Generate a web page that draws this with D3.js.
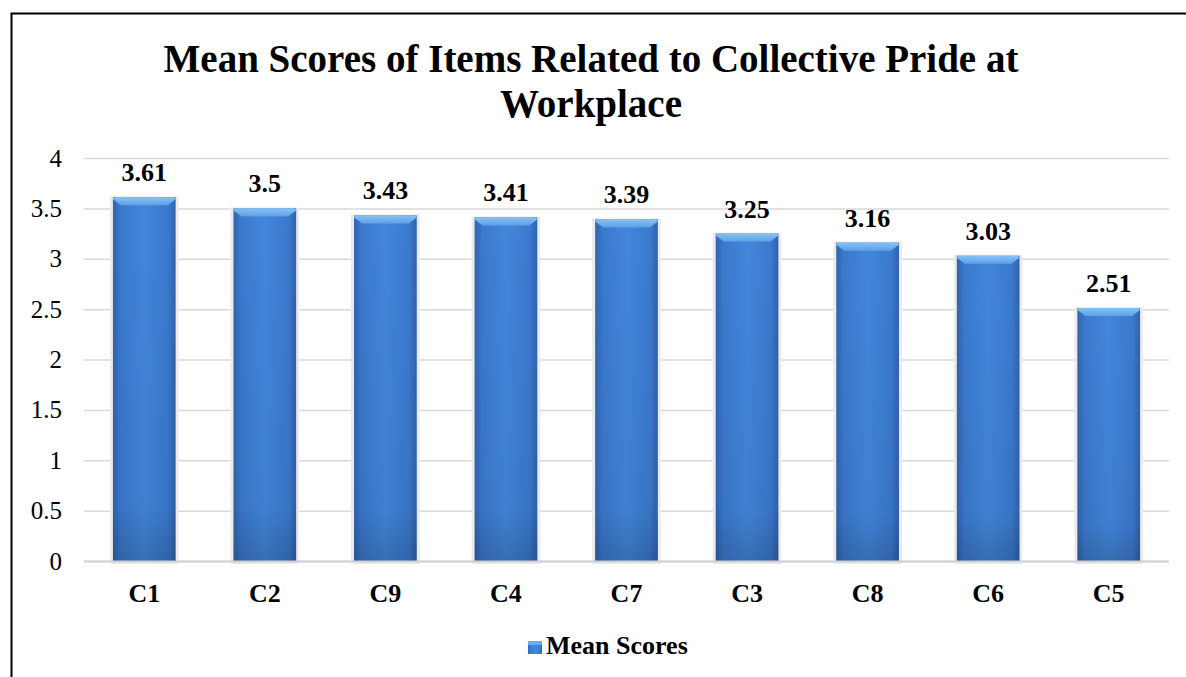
<!DOCTYPE html>
<html>
<head>
<meta charset="utf-8">
<script src="https://cdn.jsdelivr.net/npm/d3@7"></script>
<style>
  body { margin: 0; background: #fff; }
  svg { display: block; }
</style>
</head>
<body>
<svg id="chart" width="1186" height="677"></svg>
<script>
const categories = ["C1", "C2", "C9", "C4", "C7", "C3", "C8", "C6", "C5"];
const meanScores = [3.61, 3.5, 3.43, 3.41, 3.39, 3.25, 3.16, 3.03, 2.51];
const yTicks = [0, 0.5, 1, 1.5, 2, 2.5, 3, 3.5, 4];
const titleLines = ["Mean Scores of Items Related to Collective Pride at", "Workplace"];
const seriesName = "Mean Scores";

const settings = {
  width: 1186,
  height: 677,
  plot: { left: 84, right: 1169, top: 158, bottom: 561 },
  font: "'Liberation Serif', 'Times New Roman', serif",
};

const svg = d3.select("#chart");

// gradients for the beveled bar look
const defs = svg.append("defs");
const grad = defs.append("linearGradient").attr("id", "barFill").attr("x1", 0).attr("x2", 1).attr("y1", 0).attr("y2", 0);
grad.append("stop").attr("offset", "0%").attr("stop-color", "#2f64b0");
grad.append("stop").attr("offset", "12%").attr("stop-color", "#3b79cd");
grad.append("stop").attr("offset", "50%").attr("stop-color", "#4287dc");
grad.append("stop").attr("offset", "88%").attr("stop-color", "#3b79cd");
grad.append("stop").attr("offset", "100%").attr("stop-color", "#2f62ad");

const vgrad = defs.append("linearGradient").attr("id", "barShade").attr("x1", 0).attr("x2", 0).attr("y1", 0).attr("y2", 1);
vgrad.append("stop").attr("offset", "0%").attr("stop-color", "#000").attr("stop-opacity", 0);
vgrad.append("stop").attr("offset", "85%").attr("stop-color", "#000").attr("stop-opacity", 0.05);
vgrad.append("stop").attr("offset", "100%").attr("stop-color", "#000").attr("stop-opacity", 0.18);

const topGrad = defs.append("linearGradient").attr("id", "barTop").attr("x1", 0).attr("x2", 0).attr("y1", 0).attr("y2", 1);
topGrad.append("stop").attr("offset", "0%").attr("stop-color", "#86c2f5");
topGrad.append("stop").attr("offset", "100%").attr("stop-color", "#5da0e6");

// outer frame
svg.append("rect")
  .attr("x", 11.5).attr("y", 13.5)
  .attr("width", 1200).attr("height", 700)
  .attr("fill", "none").attr("stroke", "#000").attr("stroke-width", 2);

// title
const title = svg.append("text")
  .style("font-family", settings.font)
  .attr("font-weight", "bold")
  .attr("font-size", "39px")
  .attr("text-anchor", "middle");
title.selectAll("tspan").data(titleLines).join("tspan")
  .attr("x", 591)
  .attr("y", (d, i) => 72 + i * 45)
  .text((d) => d);

const x = d3.scaleBand()
  .domain(categories)
  .range([settings.plot.left, settings.plot.right])
  .paddingInner(0.48)
  .paddingOuter(0.24);

const y = d3.scaleLinear()
  .domain([0, 4])
  .range([settings.plot.bottom, settings.plot.top]);

// gridlines + y labels
const yaxis = d3.axisLeft(y).tickValues(yTicks).tickFormat(d3.format("")).tickSize(-(settings.plot.right - settings.plot.left)).tickPadding(22);
svg.append("g")
  .attr("transform", `translate(${settings.plot.left}, 0)`)
  .call(yaxis)
  .call((g) => g.select(".domain").remove())
  .call((g) => g.selectAll(".tick line").attr("stroke", "#d9d9d9").attr("stroke-width", 1.5))
  .call((g) => g.selectAll(".tick text")
    .style("font-family", settings.font)
    .style("font-size", "25px")
    .attr("fill", "#000"));

const data = categories.map((c, i) => ({ cat: c, value: meanScores[i] }));

// soft shadow behind bars
svg.append("g").selectAll("rect").data(data).join("rect")
  .attr("x", (d) => x(d.cat) - 3)
  .attr("y", (d) => y(d.value) - 1)
  .attr("width", x.bandwidth() + 6)
  .attr("height", (d) => y(0) - y(d.value) + 4)
  .attr("fill", "#ebebeb");

const bars = svg.append("g").selectAll("g").data(data).join("g");
bars.append("rect")
  .attr("x", (d) => x(d.cat))
  .attr("y", (d) => y(d.value))
  .attr("width", x.bandwidth())
  .attr("height", (d) => y(0) - y(d.value))
  .attr("fill", "url(#barFill)");
bars.append("rect")
  .attr("x", (d) => x(d.cat))
  .attr("y", (d) => y(d.value))
  .attr("width", x.bandwidth())
  .attr("height", (d) => y(0) - y(d.value))
  .attr("fill", "url(#barShade)");
// bevelled top
bars.append("path")
  .attr("d", (d) => {
    const x0 = x(d.cat), x1 = x0 + x.bandwidth(), t = y(d.value);
    return `M${x0},${t + 2}Q${x0},${t} ${x0 + 3},${t}L${x1 - 3},${t}Q${x1},${t} ${x1},${t + 2}L${x1 - 8},${t + 8}L${x0 + 8},${t + 8}Z`;
  })
  .attr("fill", "url(#barTop)");

// baseline
svg.append("line")
  .attr("x1", settings.plot.left).attr("x2", settings.plot.right)
  .attr("y1", y(0) + 0.5).attr("y2", y(0) + 0.5)
  .attr("stroke", "#d0d0d0").attr("stroke-width", 2);

// value labels
svg.append("g").selectAll("text").data(data).join("text")
  .attr("x", (d) => x(d.cat) + x.bandwidth() / 2)
  .attr("y", (d) => y(d.value) - 16)
  .attr("text-anchor", "middle")
  .style("font-family", settings.font)
  .attr("font-weight", "bold")
  .attr("font-size", "26px")
  .text((d) => d.value);

// category labels
svg.append("g").selectAll("text").data(categories).join("text")
  .attr("x", (d) => x(d) + x.bandwidth() / 2)
  .attr("y", 602)
  .attr("text-anchor", "middle")
  .style("font-family", settings.font)
  .attr("font-weight", "bold")
  .attr("font-size", "26px")
  .text((d) => d);

// legend
const legend = svg.append("g").attr("transform", "translate(528, 641)");
legend.append("rect").attr("width", 14).attr("height", 13).attr("fill", "url(#barFill)");
legend.append("rect").attr("width", 14).attr("height", 4).attr("fill", "#6aaaf0");
legend.append("text")
  .attr("x", 18).attr("y", 13)
  .style("font-family", settings.font)
  .attr("font-weight", "bold")
  .attr("font-size", "26px")
  .text(seriesName);
</script>
</body>
</html>
